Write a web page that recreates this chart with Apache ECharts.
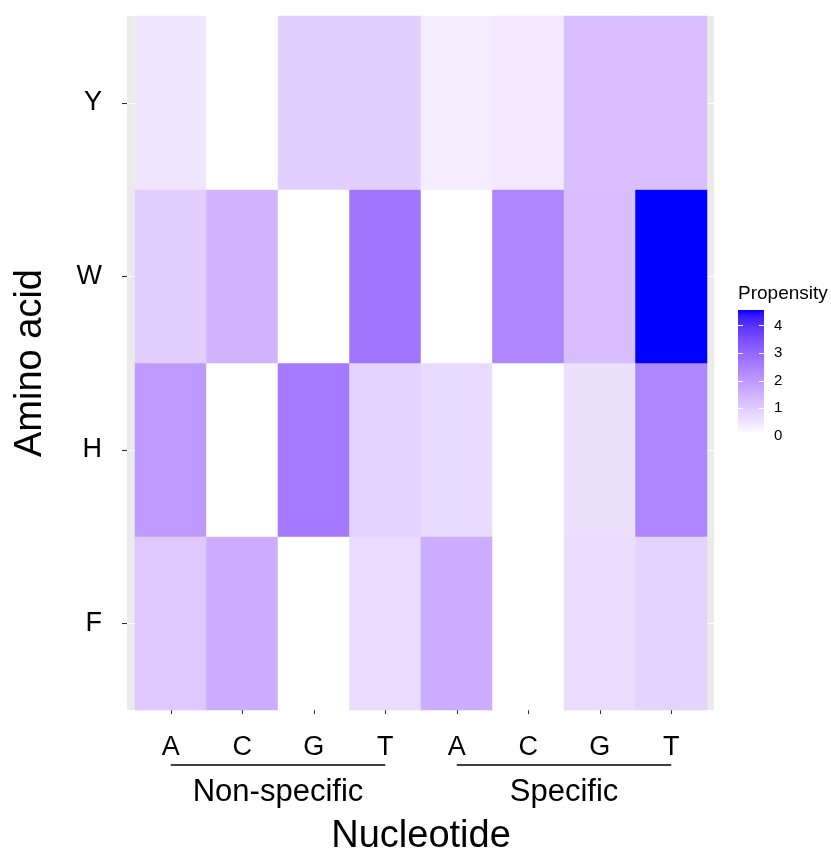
<!DOCTYPE html>
<html><head><meta charset="utf-8">
<script src="https://cdn.jsdelivr.net/npm/echarts@6/dist/echarts.min.js"></script>
<style>html,body{margin:0;padding:0;background:#fff}#c{width:831px;height:849px}</style>
</head><body><div id="c"></div>
<script>
// ---------- data ----------
const nucleotides = ['A', 'C', 'G', 'T', 'A', 'C', 'G', 'T'];
const aminoAcids = ['F', 'H', 'W', 'Y'];
const groups = ['Non-specific', 'Specific'];
const groupSpans = [[0, 3], [4, 7]];
const valF = [1.07, 1.61, 0, 0.68, 1.60, 0, 0.68, 0.88];
const valH = [1.99, 0, 2.63, 0.88, 0.72, 0, 0.61, 2.40];
const valW = [0.93, 1.47, 0, 2.73, 0, 2.40, 1.28, 4.57];
const valY = [0.49, 0, 0.93, 0.93, 0.34, 0.45, 1.24, 1.24];
const legendTicks = [0, 1, 2, 3, 4];
const scaleMin = 0, scaleMax = 4.57, legendBarMin = 0.15;

// ---------- colour scale (Lab interpolation white -> blue, like ggplot) ----------
const Xn = 0.95047, Yn = 1.0, Zn = 1.08883;
function toLin(c) { c /= 255; return c <= 0.04045 ? c / 12.92 : Math.pow((c + 0.055) / 1.055, 2.4); }
function fromLin(c) { c = Math.max(0, Math.min(1, c)); return 255 * (c <= 0.0031308 ? 12.92 * c : 1.055 * Math.pow(c, 1 / 2.4) - 0.055); }
function rgb2lab(rgb) {
  const R = toLin(rgb[0]), G = toLin(rgb[1]), B = toLin(rgb[2]);
  const X = 0.4124 * R + 0.3576 * G + 0.1805 * B, Y = 0.2126 * R + 0.7152 * G + 0.0722 * B, Z = 0.0193 * R + 0.1192 * G + 0.9505 * B;
  const f = t => t > 0.008856 ? Math.cbrt(t) : 7.787 * t + 16 / 116;
  const fx = f(X / Xn), fy = f(Y / Yn), fz = f(Z / Zn);
  return [116 * fy - 16, 500 * (fx - fy), 200 * (fy - fz)];
}
function lab2hex(lab) {
  const fy = (lab[0] + 16) / 116, fx = fy + lab[1] / 500, fz = fy - lab[2] / 200;
  const fi = t => t * t * t > 0.008856 ? t * t * t : (t - 16 / 116) / 7.787;
  const X = Xn * fi(fx), Y = Yn * fi(fy), Z = Zn * fi(fz);
  const r = fromLin(3.2406 * X - 1.5372 * Y - 0.4986 * Z), g = fromLin(-0.9689 * X + 1.8758 * Y + 0.0415 * Z), b = fromLin(0.0557 * X - 0.2040 * Y + 1.0570 * Z);
  return '#' + [r, g, b].map(v => Math.round(v).toString(16).padStart(2, '0')).join('');
}
const labLow = rgb2lab([255, 255, 255]), labHigh = rgb2lab([0, 0, 255]);
function colorAt(t) { return lab2hex(labLow.map((v, i) => v + (labHigh[i] - v) * t)); }
const NSTOP = 24;
const rampColors = [];
for (let i = 0; i <= NSTOP; i++) rampColors.push(colorAt(i / NSTOP));
const legendStops = [];
for (let i = 0; i <= NSTOP; i++) {
  const off = i / NSTOP;
  const v = legendBarMin + (scaleMax - legendBarMin) * off;
  legendStops.push({ offset: off, color: colorAt((v - scaleMin) / (scaleMax - scaleMin)) });
}

// ---------- build heatmap data ----------
const rows = [valF, valH, valW, valY];
const heatData = [];
rows.forEach((row, yi) => row.forEach((v, xi) => heatData.push([xi, yi, v])));

const FONT = "'Liberation Sans', Arial, Helvetica, sans-serif";
const chart = echarts.init(document.getElementById('c'), null, { renderer: 'canvas' });
const PANEL = { left: 127, top: 16, width: 587, height: 694 };
const rowH = PANEL.height / aminoAcids.length;
const gridBase = { show: false, containLabel: false, outerBoundsMode: 'none' };

const option = {
  animation: false,
  backgroundColor: '#ffffff',
  textStyle: { fontFamily: FONT },
  grid: [
    Object.assign({}, gridBase, { left: PANEL.left, top: PANEL.top, width: PANEL.width, height: PANEL.height, show: true, backgroundColor: '#EBEBEB', borderWidth: 0 }),
    Object.assign({}, gridBase, { left: PANEL.left, top: PANEL.top + rowH / 2, width: PANEL.width, height: PANEL.height - rowH }),
    Object.assign({}, gridBase, { left: 135, top: PANEL.top, width: 572, height: PANEL.height }),
    Object.assign({}, gridBase, { left: 738, top: 310, width: 26, height: (scaleMax - scaleMin) * 27.53 })
  ],
  xAxis: [
    { gridIndex: 0, type: 'value', show: false, min: 0, max: 1 },
    { gridIndex: 1, type: 'value', show: false, min: 0, max: 1 },
    {
      gridIndex: 2, type: 'category', position: 'bottom', data: nucleotides,
      axisLine: { show: false },
      axisTick: { show: true, alignWithLabel: true, length: 4, lineStyle: { color: '#333333', width: 1.1 } },
      axisLabel: { fontSize: 27, color: '#000', margin: 24, fontFamily: FONT },
      splitLine: { show: false },
      name: 'Nucleotide', nameLocation: 'middle', nameGap: 108,
      nameTextStyle: { fontSize: 38, color: '#000', fontFamily: FONT }
    },
    {
      gridIndex: 2, type: 'category', position: 'bottom', data: groups,
      axisLine: { show: false }, axisTick: { show: false }, splitLine: { show: false },
      axisLabel: { fontSize: 31, color: '#000', margin: 67, fontFamily: FONT }
    },
    { gridIndex: 3, type: 'category', data: [''], show: false }
  ],
  yAxis: [
    { gridIndex: 0, type: 'value', show: false, min: 0, max: 1 },
    {
      gridIndex: 1, type: 'value', min: 0, max: aminoAcids.length - 1, interval: 1, z: 1,
      axisLine: { show: false },
      axisTick: { show: true, length: 5, lineStyle: { color: '#333333', width: 1.1 } },
      axisLabel: { fontSize: 27, color: '#000', margin: 25, fontFamily: FONT, formatter: v => aminoAcids[v] },
      splitLine: { show: true, lineStyle: { color: '#ffffff', width: 1.1 } },
      name: 'Amino acid', nameLocation: 'middle', nameGap: 77, nameRotate: 90,
      nameTextStyle: { fontSize: 38, color: '#000', fontFamily: FONT }
    },
    { gridIndex: 2, type: 'category', data: aminoAcids, show: false },
    {
      gridIndex: 3, type: 'value', position: 'left', min: scaleMin, max: scaleMax, interval: 1, z: 3,
      axisLine: { show: false }, splitLine: { show: false },
      axisTick: { show: true, inside: true, length: 5, customValues: [1, 2, 3, 4], lineStyle: { color: '#ffffff', width: 1 } },
      axisLabel: { show: false },
      name: 'Propensity', nameLocation: 'end', nameGap: 7,
      nameTextStyle: { fontSize: 19, color: '#000', align: 'left', verticalAlign: 'bottom', fontFamily: FONT }
    },
    {
      gridIndex: 3, type: 'value', position: 'right', min: scaleMin, max: scaleMax, interval: 1, z: 3,
      axisLine: { show: false }, splitLine: { show: false },
      axisTick: { show: true, inside: true, length: 5, customValues: [1, 2, 3, 4], lineStyle: { color: '#ffffff', width: 1 } },
      axisLabel: { show: true, margin: 10, fontSize: 15, color: '#000', customValues: legendTicks, fontFamily: FONT }
    }
  ],
  visualMap: {
    type: 'continuous', show: false, seriesIndex: 0, dimension: 2,
    min: scaleMin, max: scaleMax, inRange: { color: rampColors }
  },
  series: [
    {
      type: 'heatmap', xAxisIndex: 2, yAxisIndex: 2, data: heatData,
      itemStyle: { borderWidth: 0 }, emphasis: { disabled: true }, z: 2
    },
    {
      type: 'bar', xAxisIndex: 4, yAxisIndex: 3, stack: 'legend', barWidth: '100%', silent: true,
      data: [legendBarMin], itemStyle: { color: 'rgba(0,0,0,0)' }
    },
    {
      type: 'bar', xAxisIndex: 4, yAxisIndex: 3, stack: 'legend', barWidth: '100%', silent: true,
      data: [scaleMax - legendBarMin],
      itemStyle: { color: new echarts.graphic.LinearGradient(0, 1, 0, 0, legendStops) }
    }
  ]
};
chart.setOption(option);

// group brackets under the nucleotide labels, positioned through the x scale
const bracketY = PANEL.top + PANEL.height + 55;
const graphics = groupSpans.map(([a, b]) => {
  const x1 = chart.convertToPixel({ xAxisIndex: 2 }, a);
  const x2 = chart.convertToPixel({ xAxisIndex: 2 }, b);
  return { type: 'line', shape: { x1: x1, y1: bracketY, x2: x2, y2: bracketY }, style: { stroke: '#000', lineWidth: 1.5 }, silent: true };
});
chart.setOption({ graphic: graphics });
</script>
</body></html>
